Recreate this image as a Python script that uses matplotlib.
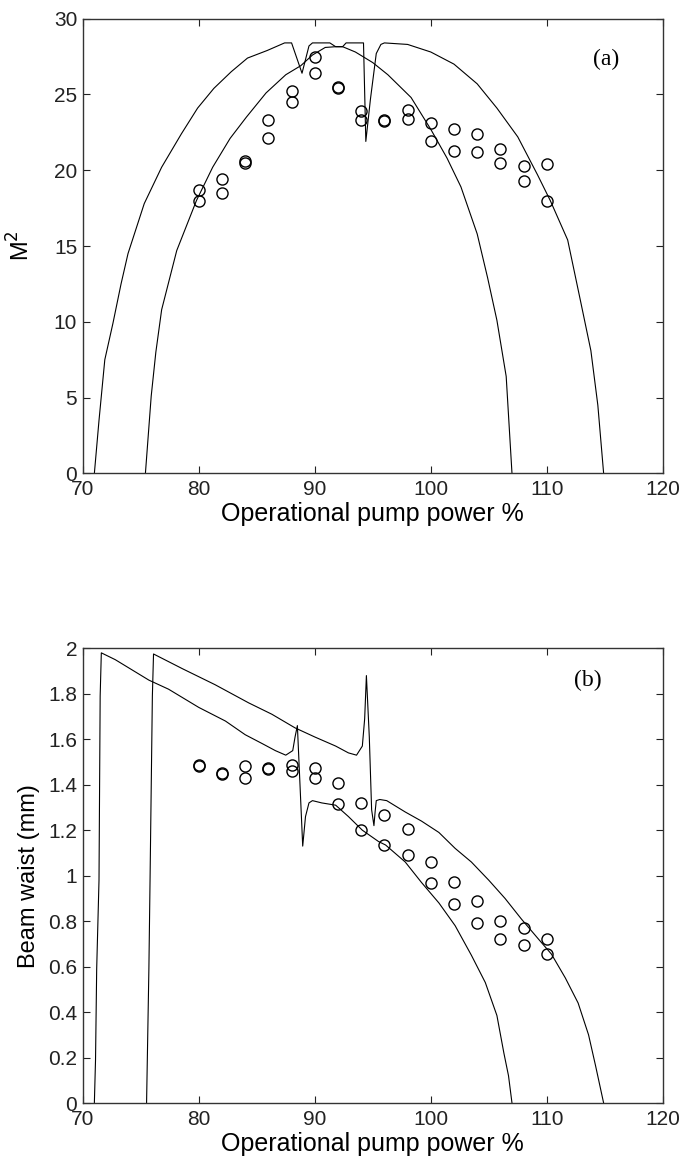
import matplotlib
matplotlib.use('Agg')
import matplotlib.pyplot as plt

plt.rcParams['font.family'] = ['Liberation Sans', 'DejaVu Sans']

# measured points: two readings per pump setting
pump_pct = [80, 80, 82, 82, 84, 84, 86, 86, 88, 88, 90, 90, 92, 92, 94, 94,
            96, 96, 98, 98, 100, 100, 102, 102, 104, 104, 106, 106, 108, 108, 110, 110]
m2_meas = [18.7, 18.0, 19.4, 18.5, 20.6, 20.5, 23.3, 22.1, 25.2, 24.5, 27.5, 26.4,
           25.5, 25.45, 23.9, 23.3, 23.3, 23.25, 24.0, 23.4, 23.1, 21.9, 22.7, 21.3,
           22.4, 21.2, 21.4, 20.5, 20.3, 19.3, 20.4, 18.0]
waist_meas = [1.488, 1.482, 1.450, 1.448, 1.484, 1.430, 1.475, 1.470, 1.488, 1.459,
              1.474, 1.430, 1.408, 1.313, 1.320, 1.203, 1.265, 1.134, 1.206, 1.089,
              1.060, 0.966, 0.972, 0.874, 0.889, 0.794, 0.800, 0.720, 0.768, 0.696,
              0.720, 0.655]

# model curve 1 (lases 71-107 %)
m2_c1_x = [71.0, 71.4, 71.9, 72.6, 73.3, 73.9, 75.3, 76.8, 78.5, 79.9, 81.3, 82.8,
           84.2, 85.9, 87.4, 88.0, 88.9, 89.5, 89.8, 91.3, 91.8, 92.4, 93.5, 95.0,
           96.3, 98.3, 100.0, 101.4, 102.6, 104.0, 104.9, 105.7, 106.5, 107.0]
m2_c1_y = [0.0, 3.5, 7.5, 9.9, 12.5, 14.5, 17.8, 20.2, 22.4, 24.1, 25.4, 26.5,
           27.4, 27.9, 28.4, 28.4, 26.4, 28.2, 28.4, 28.4, 28.15, 28.15, 27.8, 27.1,
           26.3, 24.8, 22.7, 20.8, 18.9, 15.8, 12.9, 10.1, 6.4, 0.0]

# model curve 2 (lases 75.5-115 %)
m2_c2_x = [75.4, 75.9, 76.3, 76.8, 78.1, 79.8, 81.2, 82.7, 84.1, 85.8, 87.5, 88.8,
           89.8, 90.9, 91.8, 92.4, 92.7, 94.2, 94.4, 94.8, 95.3, 95.7, 96.0, 98.0,
           100.0, 102.0, 104.0, 105.7, 107.5, 109.2, 110.3, 111.8, 112.9, 113.8,
           114.4, 114.9]
m2_c2_y = [0.0, 5.1, 8.0, 10.8, 14.7, 18.0, 20.2, 22.1, 23.5, 25.1, 26.3, 26.9,
           27.6, 28.1, 28.15, 28.15, 28.4, 28.4, 21.9, 24.7, 27.7, 28.3, 28.4, 28.3,
           27.8, 27.0, 25.7, 24.1, 22.2, 19.7, 18.0, 15.4, 11.4, 8.1,
           4.5, 0.0]

waist_c1_x = [71.0, 71.1, 71.2, 71.4, 71.45, 71.5, 71.6, 72.8, 75.7, 77.4, 80.0, 82.3,
              84.0, 85.5, 86.6, 87.5, 88.1, 88.3, 88.5, 88.96, 89.2, 89.5, 89.8, 90.6,
              91.8, 92.9, 94.1, 95.5, 96.1, 97.8, 99.2, 100.7, 102.1, 103.5, 104.7,
              105.7, 106.3, 106.7, 107.0]
waist_c1_y = [0.0, 0.19, 0.59, 0.98, 1.39, 1.79, 1.98, 1.95, 1.86, 1.82, 1.74, 1.68,
              1.62, 1.58, 1.55, 1.53, 1.55, 1.61, 1.66, 1.13, 1.26, 1.32, 1.33, 1.32,
              1.31, 1.26, 1.20, 1.15, 1.135, 1.06, 0.97, 0.88, 0.78, 0.65, 0.53,
              0.385, 0.22, 0.12, 0.0]

waist_c2_x = [75.5, 75.7, 75.8, 76.0, 76.1, 78.6, 81.4, 84.3, 86.3, 88.3, 90.0, 91.8,
              92.9, 93.6, 94.1, 94.3, 94.45, 94.7, 94.9, 95.1, 95.2, 95.3, 95.6, 96.2,
              97.8, 99.2, 100.7, 102.1, 103.5, 105.0, 106.4, 107.8, 109.3, 110.4,
              111.6, 112.7, 113.6, 114.2, 114.9]
waist_c2_y = [0.0, 0.59, 0.98, 1.79, 1.975, 1.91, 1.84, 1.76, 1.71, 1.65, 1.61, 1.57,
              1.54, 1.53, 1.57, 1.69, 1.88, 1.61, 1.29, 1.22, 1.28, 1.33, 1.335, 1.33,
              1.28, 1.24, 1.19, 1.12, 1.06, 0.98, 0.90, 0.81, 0.72, 0.655,
              0.55, 0.44, 0.30, 0.165, 0.0]

x_ticks = [70, 80, 90, 100, 110, 120]
m2_ticks = [0, 5, 10, 15, 20, 25, 30]
waist_ticks = [0, 0.2, 0.4, 0.6, 0.8, 1, 1.2, 1.4, 1.6, 1.8, 2]
waist_tick_labels = ['0', '0.2', '0.4', '0.6', '0.8', '1', '1.2', '1.4', '1.6', '1.8', '2']

fig = plt.figure(figsize=(6.84, 11.66), dpi=100, facecolor='white')
ax_a = fig.add_axes([0.121, 0.594, 0.848, 0.390])
ax_b = fig.add_axes([0.121, 0.054, 0.848, 0.390])


def style_axes(ax):
    ax.set_xlim(70, 120)
    ax.set_xticks(x_ticks)
    ax.tick_params(direction='in', top=True, right=True, length=5, width=0.8,
                   labelsize=15, colors='#222222')
    ax.tick_params(axis='x', pad=5)
    ax.tick_params(axis='y', pad=4)
    for s in ax.spines.values():
        s.set_color('#333333')
        s.set_linewidth(1.0)
    ax.set_xlabel('Operational pump power %', fontsize=18, labelpad=2)


# (a) beam quality
ax_a.plot(m2_c1_x, m2_c1_y, color='black', lw=0.8)
ax_a.plot(m2_c2_x, m2_c2_y, color='black', lw=0.8)
ax_a.plot(pump_pct, m2_meas, 'o', mfc='none', mec='black', ms=8, mew=1.0)
ax_a.set_ylim(0, 30)
ax_a.set_yticks(m2_ticks)
style_axes(ax_a)
ax_a.set_ylabel('M$^2$', fontsize=17, labelpad=14)
ax_a.text(115.1, 27.3, '(a)', fontsize=17, family='Liberation Serif',
          ha='center', va='center')

# (b) beam waist
ax_b.plot(waist_c1_x, waist_c1_y, color='black', lw=0.8)
ax_b.plot(waist_c2_x, waist_c2_y, color='black', lw=0.8)
ax_b.plot(pump_pct, waist_meas, 'o', mfc='none', mec='black', ms=8, mew=1.0)
ax_b.set_ylim(0, 2)
ax_b.set_yticks(waist_ticks)
ax_b.set_yticklabels(waist_tick_labels)
style_axes(ax_b)
ax_b.set_ylabel('Beam waist (mm)', fontsize=17, labelpad=6)
ax_b.text(113.5, 1.86, '(b)', fontsize=17, family='Liberation Serif',
          ha='center', va='center')

fig.savefig('out.png', dpi=100, facecolor='white')
